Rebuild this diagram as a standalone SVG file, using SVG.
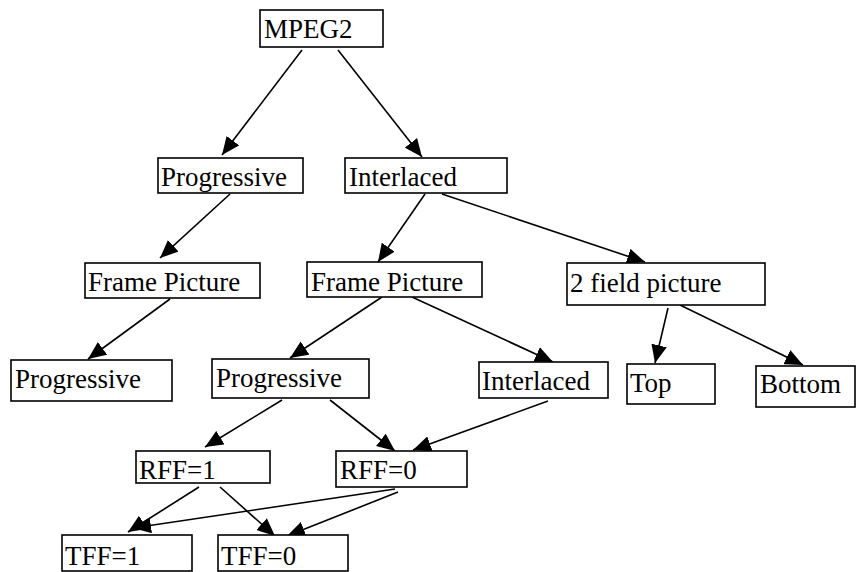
<svg xmlns="http://www.w3.org/2000/svg" width="856" height="572" viewBox="0 0 856 572">
<style>
.box{fill:#fff;stroke:#000;stroke-width:1.6}
.lbl{font-family:"Liberation Serif","Times New Roman",serif;font-size:27px;fill:#000}
.edge{stroke:#000;stroke-width:1.6;fill:none;marker-end:url(#ah)}
</style>
<defs>
<marker id="ah" markerUnits="userSpaceOnUse" markerWidth="18" markerHeight="16" viewBox="0 0 16 14" refX="16" refY="7" orient="auto">
<path d="M0,0 L16,7 L0,14 Z" fill="#000"/>
</marker>
</defs>
<rect width="856" height="572" fill="#fff"/>
<g id="connectors">
<line class="edge" x1="302" y1="50" x2="222" y2="155"/>
<line class="edge" x1="338" y1="50" x2="422" y2="157"/>
<line class="edge" x1="230" y1="194" x2="160" y2="258"/>
<line class="edge" x1="425" y1="194" x2="378" y2="262"/>
<line class="edge" x1="442" y1="194" x2="645" y2="262"/>
<line class="edge" x1="170" y1="299" x2="88" y2="359"/>
<line class="edge" x1="382" y1="297" x2="290" y2="358"/>
<line class="edge" x1="412" y1="297" x2="553" y2="362"/>
<line class="edge" x1="668" y1="308" x2="655" y2="363"/>
<line class="edge" x1="680" y1="305" x2="803" y2="365"/>
<line class="edge" x1="282" y1="400" x2="205" y2="447"/>
<line class="edge" x1="330" y1="400" x2="395" y2="451"/>
<line class="edge" x1="548" y1="401" x2="413" y2="450"/>
<line class="edge" x1="199" y1="487" x2="128" y2="532"/>
<line class="edge" x1="220" y1="487" x2="275" y2="536"/>
<line class="edge" x1="395" y1="489" x2="133" y2="528"/>
<line class="edge" x1="398" y1="492" x2="287" y2="536"/>
</g>
<g id="mpeg2"><rect class="box" x="260" y="10" width="123" height="37"/><text class="lbl" x="264" y="38">MPEG2</text></g>
<g id="progressive1"><rect class="box" x="158" y="158" width="145" height="35"/><text class="lbl" x="161" y="186">Progressive</text></g>
<g id="interlaced1"><rect class="box" x="345" y="158" width="162" height="35"/><text class="lbl" x="349" y="186">Interlaced</text></g>
<g id="framepicture1"><rect class="box" x="85" y="263" width="175" height="35"/><text class="lbl" x="88" y="291">Frame Picture</text></g>
<g id="framepicture2"><rect class="box" x="307" y="262" width="175" height="35"/><text class="lbl" x="311" y="291">Frame Picture</text></g>
<g id="fieldpicture"><rect class="box" x="567" y="263" width="198" height="42"/><text class="lbl" x="570" y="292">2 field picture</text></g>
<g id="progressive2"><rect class="box" x="11" y="360" width="161" height="41"/><text class="lbl" x="15" y="388">Progressive</text></g>
<g id="progressive3"><rect class="box" x="212" y="359" width="157" height="39"/><text class="lbl" x="216" y="387">Progressive</text></g>
<g id="interlaced2"><rect class="box" x="479" y="362" width="129" height="36"/><text class="lbl" x="482" y="390">Interlaced</text></g>
<g id="top"><rect class="box" x="627" y="364" width="88" height="40"/><text class="lbl" x="630" y="392">Top</text></g>
<g id="bottom"><rect class="box" x="756" y="366" width="99" height="41"/><text class="lbl" x="760" y="393">Bottom</text></g>
<g id="rff1"><rect class="box" x="136" y="451" width="134" height="32"/><text class="lbl" x="139" y="479">RFF=1</text></g>
<g id="rff0"><rect class="box" x="336" y="451" width="131" height="36"/><text class="lbl" x="340" y="479">RFF=0</text></g>
<g id="tff1"><rect class="box" x="62" y="535" width="130" height="36"/><text class="lbl" x="65" y="565">TFF=1</text></g>
<g id="tff0"><rect class="box" x="218" y="535" width="130" height="36"/><text class="lbl" x="221" y="565">TFF=0</text></g>
</svg>
